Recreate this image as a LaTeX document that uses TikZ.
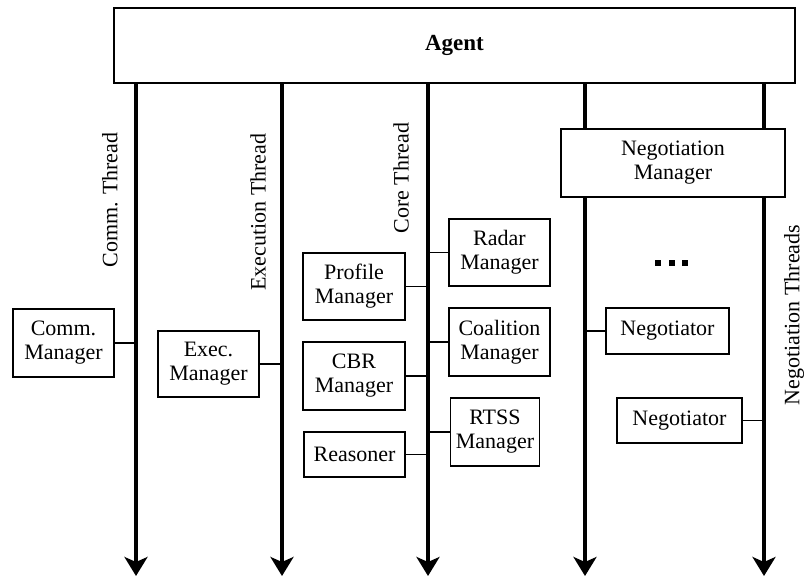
\documentclass[tikz,border=0pt]{standalone}
\usepackage{fontspec}
\setmainfont{Liberation Serif}
\usetikzlibrary{arrows.meta}
\begin{document}
\begin{tikzpicture}[x=1pt,y=-1pt,
  every node/.style={font=\fontsize{22}{24}\selectfont},
  box/.style={draw, line width=1.4pt, fill=white, inner sep=0pt, align=center},
  thread/.style={line width=4pt, -{Stealth[length=19pt,width=23pt,inset=5pt]}},
  conn/.style={line width=1.4pt},
  lbl/.style={rotate=90, inner sep=0pt}]
\useasboundingbox (0,0) rectangle (805,578);
% thread coordinates
\foreach \i/\x in {1/136,2/282,3/428,4/585,5/764}{
  \coordinate (t\i) at (\x,83);
  \coordinate (b\i) at (\x,576);
}
\foreach \i in {1,...,5}{ \draw[thread] (t\i) -- (b\i); }
% agent
\node[box, minimum width=681pt, minimum height=75pt, font=\fontsize{23}{24}\selectfont\bfseries] (agent) at (454.5,45.5) {Agent};
% boxes
\node[box, minimum width=101pt, minimum height=68pt] (comm) at (63.5,343) {Comm.\\Manager};
\node[box, minimum width=101pt, minimum height=66pt] (exec) at (208.5,364) {Exec.\\Manager};
\node[box, minimum width=102pt, minimum height=67pt] (profile) at (354,286.5) {Profile\\Manager};
\node[box, minimum width=102pt, minimum height=68pt] (cbr) at (354,376) {CBR\\Manager};
\node[box, minimum width=101pt, minimum height=45pt] (reasoner) at (354.5,454.5) {Reasoner};
\node[box, minimum width=101pt, minimum height=67pt] (radar) at (499.5,252.5) {Radar\\Manager};
\node[box, minimum width=101pt, minimum height=68pt] (coalition) at (499.5,342) {Coalition\\Manager};
\node[box, minimum width=89pt, minimum height=68pt] (rtss) at (495,432) {RTSS\\Manager};
\node[box, minimum width=224pt, minimum height=68pt] (negmgr) at (673,163) {Negotiation\\Manager};
\node[box, minimum width=123pt, minimum height=46pt] (neg1) at (667.5,331) {Negotiator};
\node[box, minimum width=125pt, minimum height=45pt] (neg2) at (679.5,420.5) {Negotiator};
% connectors
\draw[conn] (comm.east) -- (comm.east -| t1);
\draw[conn] (exec.east) -- (exec.east -| t2);
\draw[conn] (profile.east) -- (profile.east -| t3);
\draw[conn] (cbr.east) -- (cbr.east -| t3);
\draw[conn] (reasoner.east) -- (reasoner.east -| t3);
\draw[conn] (radar.west) -- (radar.west -| t3);
\draw[conn] (coalition.west) -- (coalition.west -| t3);
\draw[conn] (rtss.west) -- (rtss.west -| t3);
\draw[conn] (neg1.west) -- (neg1.west -| t4);
\draw[conn] (neg2.east) -- (neg2.east -| t5);
% thread labels
\node[lbl] (lcomm) at (110,200) {Comm. Thread};
\node[lbl] (lexec) at (258,212) {Execution Thread};
\node[lbl] (lcore) at (401,178) {Core Thread};
\node[lbl] (lneg) at (794,315) {Negotiation Threads};
% dots
\foreach \x in {658,671.5,685}{ \fill (\x-3,260) rectangle (\x+3,266); }
\end{tikzpicture}
\end{document}
